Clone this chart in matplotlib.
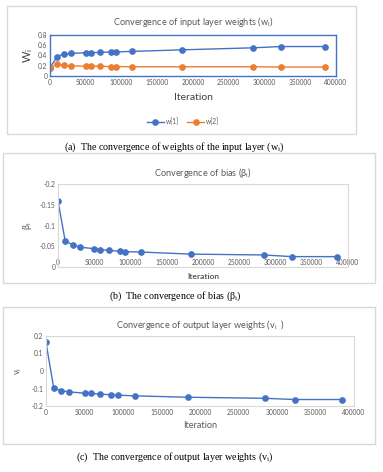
import numpy as np
import matplotlib.pyplot as plt
from matplotlib.patches import Rectangle
from matplotlib.ticker import FuncFormatter

# data
iters = [0, 10000, 20000, 30000, 50000, 58000, 70000, 85000, 93000,
         115000, 184000, 284000, 323000, 385000]
w1 = [0.16, 0.38, 0.43, 0.44, 0.455, 0.455, 0.46, 0.47, 0.47,
      0.48, 0.51, 0.55, 0.575, 0.575]
w2 = [0.16, 0.23, 0.205, 0.20, 0.19, 0.19, 0.19, 0.185, 0.185,
      0.18, 0.18, 0.18, 0.175, 0.175]
bias = [-0.159, -0.062, -0.054, -0.048, -0.044, -0.042, -0.040, -0.038,
        -0.037, -0.036, -0.031, -0.029, -0.025, -0.025]
v = [0.163, -0.097, -0.113, -0.119, -0.127, -0.128, -0.132, -0.136,
     -0.138, -0.142, -0.150, -0.156, -0.163, -0.163]
xticks = np.arange(0, 400001, 50000)

BLUE = "#4472C4"
ORANGE = "#ED7D31"
GREY = "#595959"
W, H = 383, 472

plt.rcParams["font.family"] = ["Lato", "DejaVu Sans"]

fig = plt.figure(figsize=(W / 100, H / 100), dpi=100)
fig.patch.set_facecolor("white")


def px(x0, y0, x1, y1):
    # pixel box (top-left origin) -> figure fraction rect
    return [x0 / W, 1 - y1 / H, (x1 - x0) / W, (y1 - y0) / H]


def frame(x0, y0, x1, y1):
    fig.patches.append(Rectangle((x0 / W, 1 - y1 / H), (x1 - x0) / W, (y1 - y0) / H,
                                 transform=fig.transFigure, fill=False,
                                 edgecolor="#D9D9D9", linewidth=1.0))


def style(ax, spine_col, spine_w):
    for s in ax.spines.values():
        s.set_color(spine_col)
        s.set_linewidth(spine_w)
    ax.tick_params(length=0, labelsize=4.8, labelcolor=GREY, pad=2)
    ax.set_xlim(0, 400000)
    ax.set_xticks(xticks)
    ax.xaxis.set_major_formatter(FuncFormatter(lambda x, p: "%d" % x))
    ax.yaxis.set_major_formatter(FuncFormatter(lambda y, p: "%g" % round(y, 3)))


mk = dict(marker="o", markersize=3.8, linewidth=1.0)
cap = dict(family="Liberation Serif", fontsize=7.2, ha="center", va="center")

# (a) input layer weights
frame(7, 6, 356, 134)
ax1 = fig.add_axes(px(50, 35, 336, 76))
ax1.plot(iters, w1, color=BLUE, label="w[1]", **mk)
ax1.plot(iters, w2, color=ORANGE, label="w[2]", **mk)
style(ax1, BLUE, 1.0)
ax1.set_ylim(0, 0.8)
ax1.set_yticks([0, 0.2, 0.4, 0.6, 0.8])
ax1.set_title("Convergence of input layer weights (w$_\\mathregular{i}$)",
              fontsize=6.6, color=GREY, pad=7)
ax1.set_ylabel("W$_\\mathregular{i}$", fontsize=8, color="#404040", labelpad=2)
ax1.set_xlabel("Iteration", fontsize=7.5, color="#404040", labelpad=5)
fig.legend(loc="center", bbox_to_anchor=(183 / W, 1 - 122 / H), ncol=2,
           frameon=False, fontsize=4.8, labelcolor=GREY, handlelength=2.6,
           columnspacing=1.2, handletextpad=0.3)
fig.text(174 / W, 1 - 147 / H, "(a)  The convergence of weights of the input layer (w$_\\mathregular{i}$)", **cap)

# (b) bias
frame(3, 153, 375, 283)
ax2 = fig.add_axes(px(58, 184, 348, 267))
ax2.plot(iters, bias, color=BLUE, **mk)
style(ax2, "#D9D9D9", 0.8)
ax2.set_ylim(0, -0.2)
ax2.set_yticks([0, -0.05, -0.1, -0.15, -0.2])
ax2.spines["bottom"].set_position(("data", -0.027))
ax2.spines["bottom"].set_visible(False)
ax2.plot([0, 1], [0, 0], transform=ax2.transAxes, color="#D9D9D9", linewidth=0.8, clip_on=False)
ax2.set_title("Convergence of bias (β$_\\mathregular{i}$)", fontsize=6.6, color=GREY, pad=6)
ax2.set_ylabel("β$_\\mathregular{i}$", fontsize=6.5, color=GREY, labelpad=4)
ax2.text(0.5, -0.12, "Iteration", transform=ax2.transAxes, fontsize=6,
         color=GREY, ha="center", va="center", fontweight="bold")
fig.text(175 / W, 1 - 296 / H, "(b)  The convergence of bias (β$_\\mathregular{i}$)", **cap)

# (c) output layer weights
frame(3, 307, 375, 444)
ax3 = fig.add_axes(px(46, 336, 354, 406))
ax3.plot(iters, v, color=BLUE, **mk)
style(ax3, "#D9D9D9", 0.8)
ax3.set_ylim(-0.2, 0.2)
ax3.set_yticks([-0.2, -0.1, 0, 0.1, 0.2])
ax3.set_title("Convergence of output layer weights (v$_\\mathregular{i}$  )",
              fontsize=6.6, color=GREY, pad=6)
ax3.set_ylabel("v$_\\mathregular{i}$", fontsize=6.5, color=GREY, labelpad=5)
ax3.set_xlabel("Iteration", fontsize=6.6, color=GREY, labelpad=4)
fig.text(175 / W, 1 - 457 / H, "(c)  The convergence of output layer weights (v$_\\mathregular{i}$)", **cap)

fig.savefig("out.png", dpi=100)
